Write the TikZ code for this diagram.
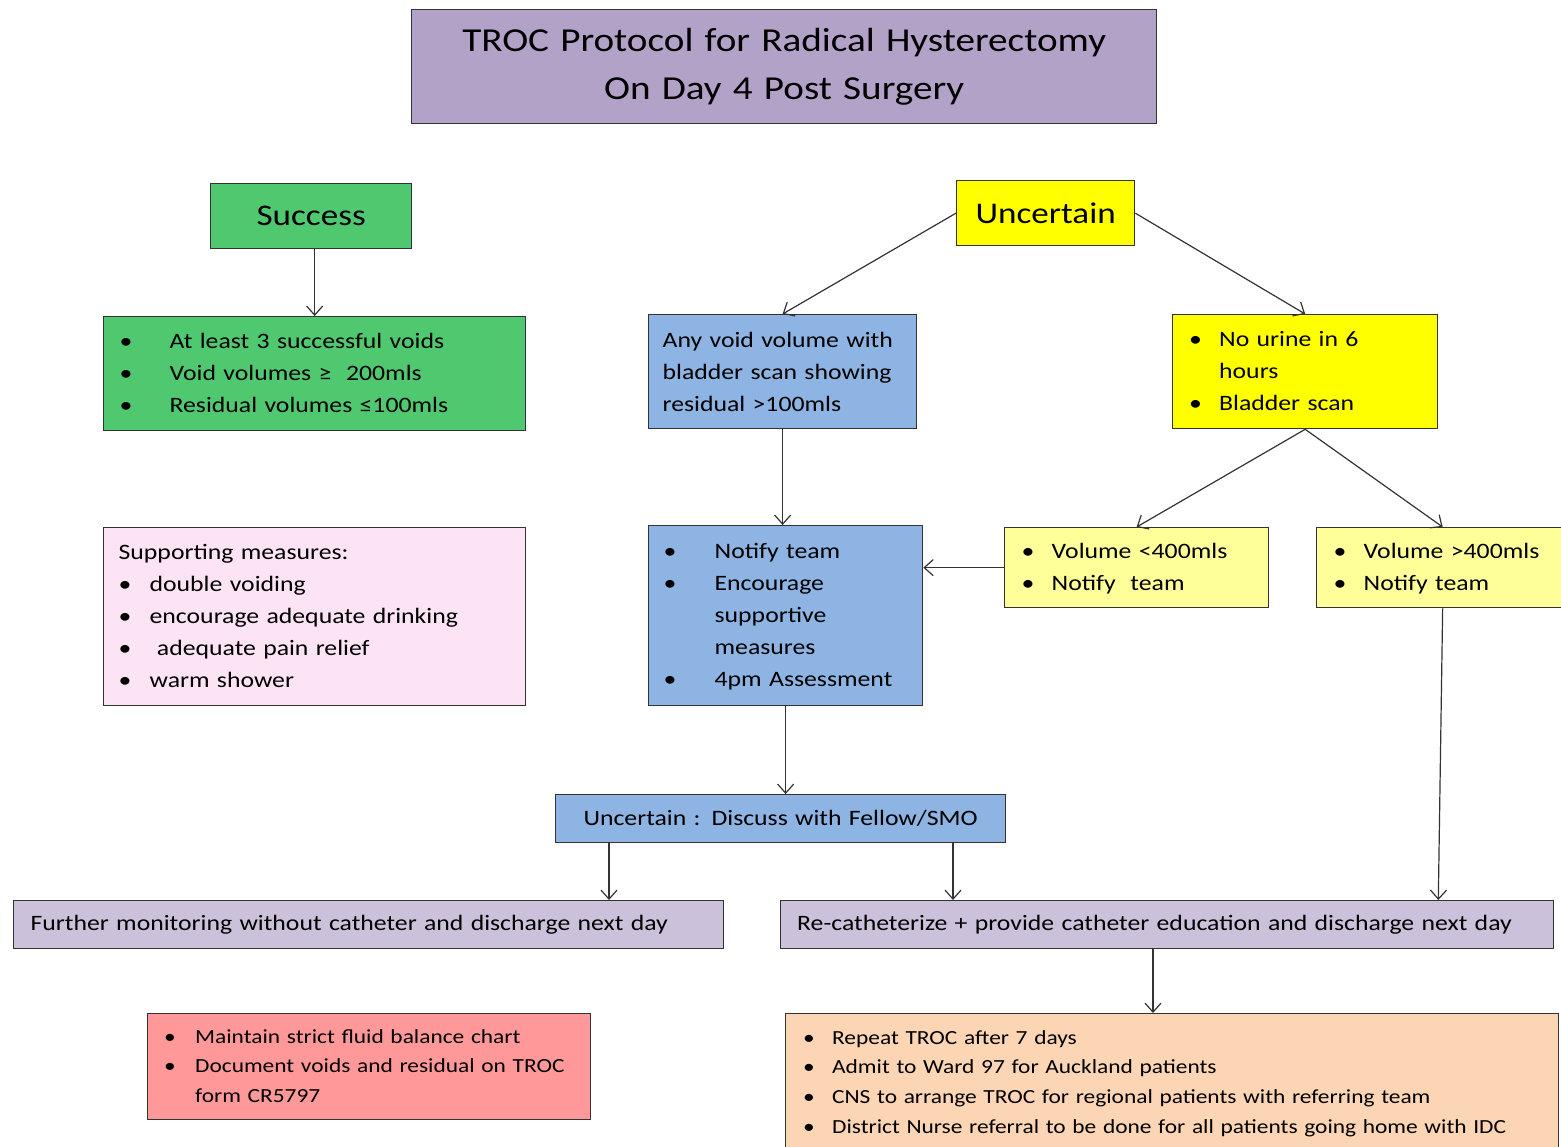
\documentclass[tikz,border=0pt]{standalone}
\usepackage{fontspec}
\setmainfont{Carlito}[FakeStretch=1.17]
\usetikzlibrary{arrows.meta}
\definecolor{cTitle}{RGB}{179,162,199}
\definecolor{cGreen}{RGB}{80,200,112}
\definecolor{cYellow}{RGB}{255,255,0}
\definecolor{cLYellow}{RGB}{255,255,153}
\definecolor{cBlue}{RGB}{141,180,226}
\definecolor{cPink}{RGB}{252,228,244}
\definecolor{cLav}{RGB}{204,193,218}
\definecolor{cRed}{RGB}{255,153,153}
\definecolor{cPeach}{RGB}{252,213,181}
\newcommand\bul{\textbullet}
\newcommand\blist[2]{\begin{tabular}{@{}p{#1}@{}l@{}}#2\end{tabular}}
\tikzset{
  bx/.style={draw=black!80, line width=1.3pt, anchor=north west, align=left, inner ysep=0pt,
    font=\fontsize{22}{32}\selectfont},
  arr/.style={-{Straight Barb[length=9pt,width=16pt,line width=1.2pt]}, line width=1.2pt, draw=black!80},
}
\begin{document}
\begin{tikzpicture}[x=1pt,y=-1pt]
\useasboundingbox (0,0) rectangle (1561,1146);

\node[bx, fill=cTitle, minimum width=745, minimum height=114, align=center, text width=720,
  font=\fontsize{33.5}{48}\selectfont] (title) at (411,9) {TROC Protocol for Radical Hysterectomy\\On Day 4 Post Surgery};

\node[bx, fill=cGreen, minimum width=201, minimum height=65, align=center, text width=190,
  font=\fontsize{30}{36}\selectfont] (success) at (210,183) {Success};
\node[bx, fill=cYellow, minimum width=178, minimum height=65, align=center, text width=170,
  font=\fontsize{30}{36}\selectfont] (unc) at (956,180) {Uncertain};

\node[bx, fill=cGreen, minimum width=422, minimum height=114, inner xsep=15, text width=390] (glist) at (103,316)
  {\blist{50pt}{\bul & At least 3 successful voids\\ \bul & Void volumes \symbol{"2265}\ \ 200mls\\ \bul & Residual volumes \symbol{"2264}100mls}};

\node[bx, fill=cBlue, minimum width=268, minimum height=114, inner xsep=14, text width=240] (blue1) at (648,314)
  {Any void volume with\\bladder scan showing\\residual >100mls};

\node[bx, fill=cYellow, minimum width=265, minimum height=114, inner xsep=16, text width=232] (yel1) at (1172,314)
  {\blist{30pt}{\bul & No urine in 6\\ & hours\\ \bul & Bladder scan}};

\node[bx, fill=cPink, minimum width=422, minimum height=178, inner xsep=14, text width=392] (pink) at (103,527)
  {\blist{31pt}{\multicolumn{2}{@{}l@{}}{Supporting measures:}\\ \bul & double voiding\\ \bul & encourage adequate drinking\\ \bul & \ adequate pain relief\\ \bul & warm shower}};

\node[bx, fill=cBlue, minimum width=274, minimum height=180, inner xsep=14, text width=244] (blue2) at (648,525)
  {\blist{51pt}{\bul & Notify team\\ \bul & Encourage\\ & supportive\\ & measures\\ \bul & 4pm Assessment}};

\node[bx, fill=cLYellow, minimum width=264, minimum height=80, inner xsep=16, text width=230] (ly1) at (1004,527)
  {\blist{30pt}{\bul & Volume <400mls\\ \bul & Notify\ \ team}};

\node[bx, fill=cLYellow, minimum width=252, minimum height=80, inner xsep=16, text width=218] (ly2) at (1316,527)
  {\blist{30pt}{\bul & Volume >400mls\\ \bul & Notify team}};

\node[bx, fill=cBlue, minimum width=450, minimum height=48, align=center, text width=440] (disc) at (555,794)
  {Uncertain : Discuss with Fellow/SMO};

\node[bx, fill=cLav, minimum width=710, minimum height=48, inner xsep=16, text width=676] (further) at (13,900)
  {Further monitoring without catheter and discharge next day};

\node[bx, fill=cLav, minimum width=773, minimum height=48, inner xsep=15, text width=740] (recath) at (780,900)
  {Re-catheterize + provide catheter education and discharge next day};

\node[bx, fill=cRed, minimum width=443, minimum height=106, inner xsep=15, text width=410,
  font=\fontsize{20}{29.5}\selectfont] (red) at (147,1013)
  {\blist{31pt}{\bul & Maintain strict fluid balance chart\\ \bul & Document voids and residual on TROC\\ & form CR5797}};

\node[bx, fill=cPeach, minimum width=773, minimum height=138, inner xsep=17, text width=738,
  font=\fontsize{20}{29.7}\selectfont] (peach) at (785,1013)
  {\blist{29pt}{\bul & Repeat TROC after 7 days\\ \bul & Admit to Ward 97 for Auckland patients\\ \bul & CNS to arrange TROC for regional patients with referring team\\ \bul & District Nurse referral to be done for all patients going home with IDC}};

% connectors
\draw[arr] ([xshift=3.5]success.south) -- ([xshift=3.5]success.south |- glist.north);
\draw[arr] (unc.west) -- (blue1.north);
\draw[arr] (unc.east) -- (yel1.north);
\draw[arr] (blue1.south) -- (blue1.south |- blue2.north);
\draw[arr] (yel1.south) -- (ly1.north);
\draw[arr] (yel1.south) -- (ly2.north);
\draw[arr] (ly1.west) -- (ly1.west -| blue2.east);
\draw[arr] (blue2.south) -- (blue2.south |- disc.north);
\coordinate (d1) at ([xshift=54]disc.south west);
\coordinate (d2) at ([xshift=398]disc.south west);
\draw[arr] (d1) -- (d1 |- further.north);
\draw[arr] (d2) -- (d2 |- recath.north);
\draw[arr] (ly2.south) -- ([xshift=-116]recath.north east);
\coordinate (r1) at ([xshift=373]recath.south west);
\draw[arr] (r1) -- (r1 |- peach.north);
\end{tikzpicture}
\end{document}
